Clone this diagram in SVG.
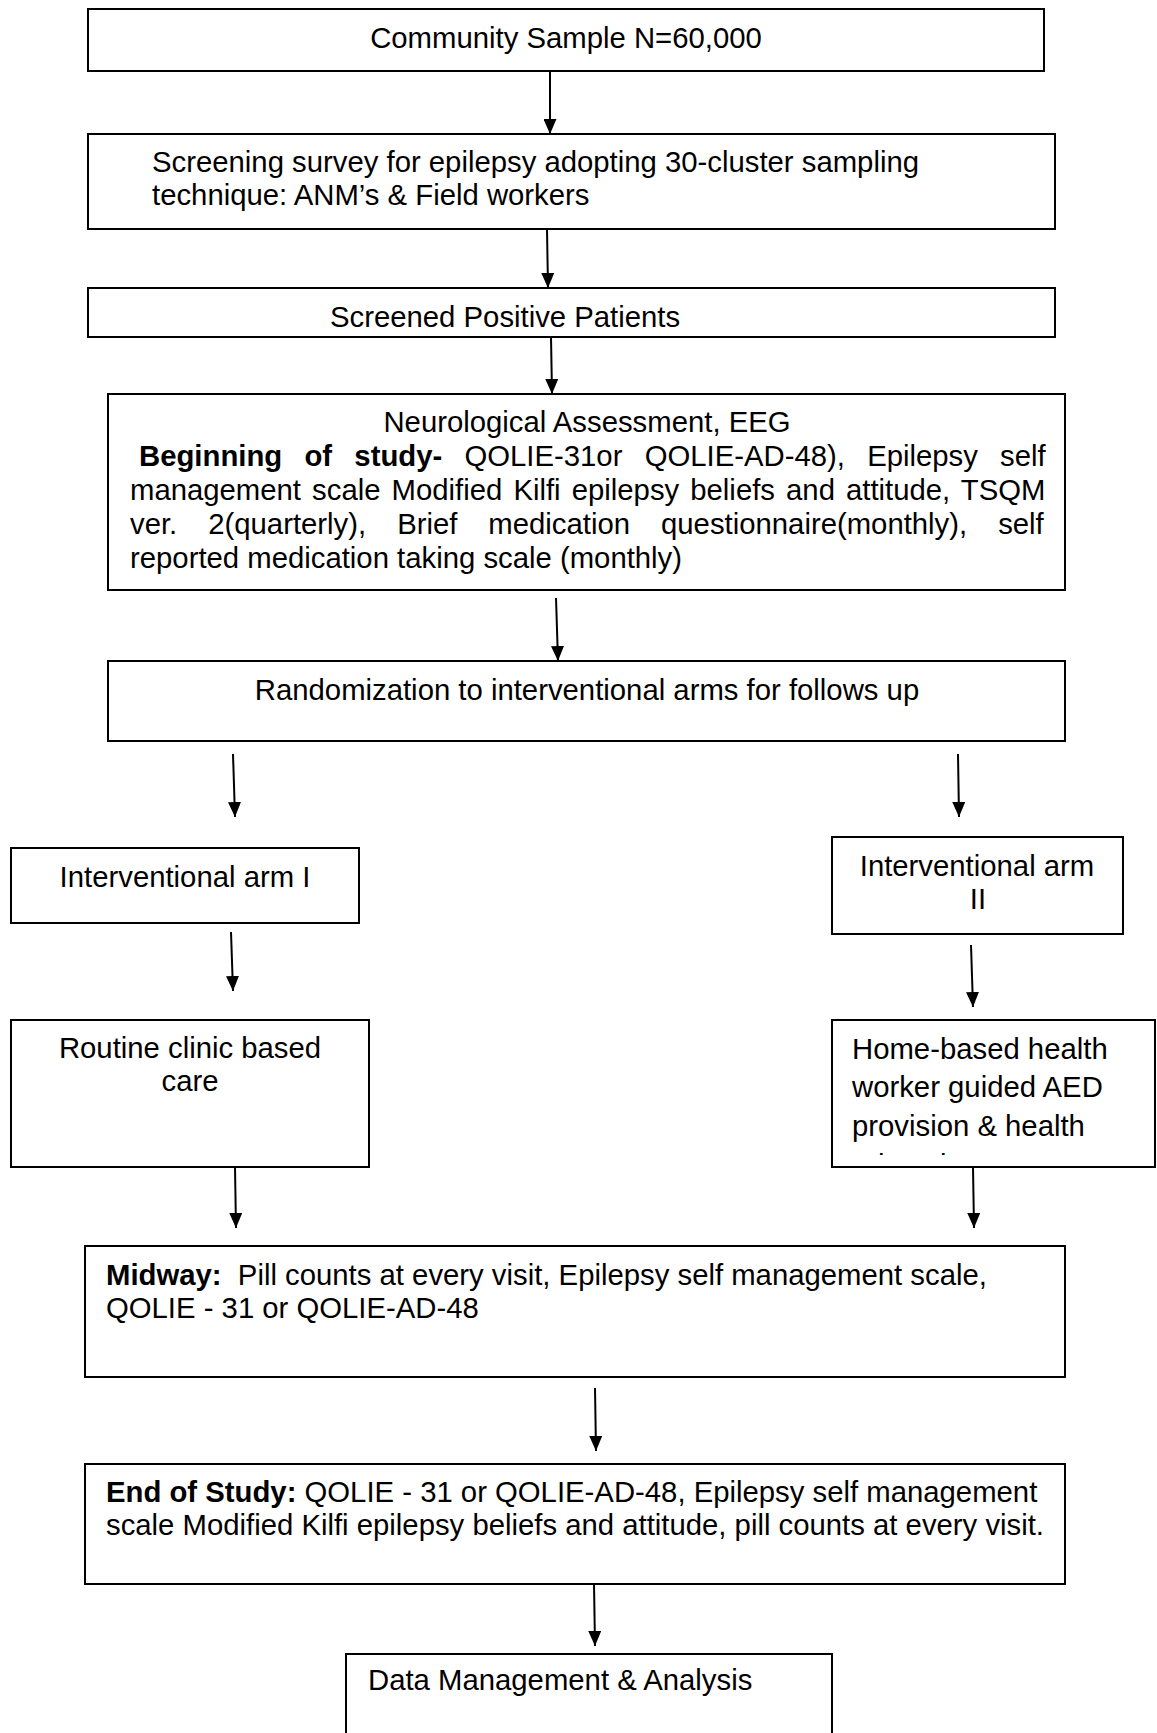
<svg xmlns="http://www.w3.org/2000/svg" width="1157" height="1733" viewBox="0 0 1157 1733">
<style>
.box{fill:#fff;stroke:#000;stroke-width:2}
text{font-family:"Liberation Sans",Arial,sans-serif;font-size:29.3px;fill:#000}
.c{text-anchor:middle}
.b{font-weight:bold}
.con{stroke:#000;stroke-width:2;fill:none;marker-end:url(#ah)}
</style>
<defs>
<marker id="ah" markerUnits="userSpaceOnUse" viewBox="0 0 15 13" markerWidth="15" markerHeight="13" refX="15" refY="6.5" orient="auto">
<path d="M0,0 L15,6.5 L0,13 z" fill="#000"/>
</marker>
<clipPath id="clip9"><rect x="833" y="1022" width="321" height="133"/></clipPath>
</defs>
<rect width="1157" height="1733" fill="#fff"/>

<g id="n1"><rect class="box" x="88" y="9" width="956" height="62"/><text class="c" x="566" y="48">Community Sample N=60,000</text></g>

<g id="n2"><rect class="box" x="88" y="134" width="967" height="95"/>
<text x="152" y="172">Screening survey for epilepsy adopting 30-cluster sampling</text>
<text x="152" y="205">technique: ANM’s &amp; Field workers</text></g>

<g id="n3"><rect class="box" x="88" y="288" width="967" height="49"/><text x="330" y="327">Screened Positive Patients</text></g>

<g id="n4"><rect class="box" x="108" y="394" width="957" height="196"/>
<text class="c" x="587" y="432">Neurological Assessment, EEG</text>
<text x="139" y="466" word-spacing="14.1"><tspan class="b">Beginning of study-</tspan> QOLIE-31or QOLIE-AD-48), Epilepsy self</text>
<text x="130" y="500" word-spacing="2.95">management scale Modified Kilfi epilepsy beliefs and attitude, TSQM</text>
<text x="130" y="534" word-spacing="22.85">ver. 2(quarterly), Brief medication questionnaire(monthly), self</text>
<text x="130" y="568">reported medication taking scale (monthly)</text></g>

<g id="n5"><rect class="box" x="108" y="661" width="957" height="80"/><text class="c" x="587" y="700">Randomization to interventional arms for follows up</text></g>

<g id="n6"><rect class="box" x="11" y="848" width="348" height="75"/><text class="c" x="185" y="887">Interventional arm I</text></g>

<g id="n7"><rect class="box" x="832" y="837" width="291" height="97"/>
<text class="c" x="977" y="876">Interventional arm</text>
<text class="c" x="978" y="909">II</text></g>

<g id="n8"><rect class="box" x="11" y="1020" width="358" height="147"/>
<text class="c" x="190" y="1058">Routine clinic based</text>
<text class="c" x="190" y="1091">care</text></g>

<g id="n9"><rect class="box" x="832" y="1020" width="323" height="147"/>
<g clip-path="url(#clip9)">
<text x="852" y="1059">Home-based health</text>
<text x="852" y="1097">worker guided AED</text>
<text x="852" y="1136">provision &amp; health</text>
<text x="852" y="1175">education</text></g></g>

<g id="n10"><rect class="box" x="85" y="1246" width="980" height="131"/>
<text x="106" y="1285"><tspan class="b">Midway:</tspan>&#160; Pill counts at every visit, Epilepsy self management scale,</text>
<text x="106" y="1318">QOLIE - 31 or QOLIE-AD-48</text></g>

<g id="n11"><rect class="box" x="85" y="1464" width="980" height="120"/>
<text x="106" y="1502"><tspan class="b">End of Study:</tspan> QOLIE - 31 or QOLIE-AD-48, Epilepsy self management</text>
<text x="106" y="1535">scale Modified Kilfi epilepsy beliefs and attitude, pill counts at every visit.</text></g>

<g id="n12"><rect class="box" x="346" y="1654" width="486" height="90"/><text x="368" y="1690">Data Management &amp; Analysis</text></g>

<g id="connectors">
<path class="con" d="M550,71 L550,134"/>
<path class="con" d="M547,229 L548,288"/>
<path class="con" d="M551,337 L552,394"/>
<path class="con" d="M556,598 L558,661"/>
<path class="con" d="M233,754 L235,817"/>
<path class="con" d="M958,754 L959,817"/>
<path class="con" d="M231,932 L233,991"/>
<path class="con" d="M971,945 L973,1007"/>
<path class="con" d="M235,1167 L236,1228"/>
<path class="con" d="M973,1167 L974,1228"/>
<path class="con" d="M595,1388 L596,1451"/>
<path class="con" d="M594,1584 L595,1646"/>
</g>
</svg>
